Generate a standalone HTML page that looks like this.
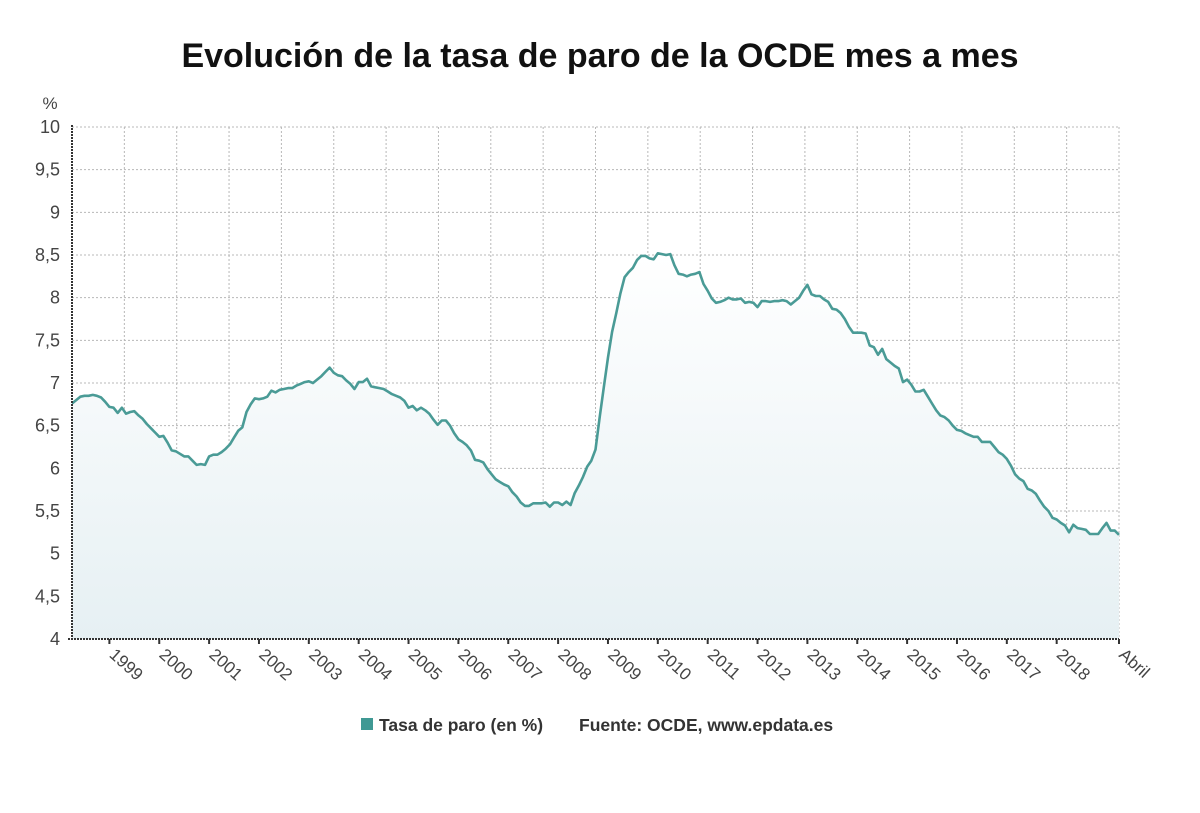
<!DOCTYPE html>
<html><head><meta charset="utf-8"><style>
body{margin:0;background:#fff;width:1200px;height:808px;overflow:hidden;font-family:"Liberation Sans",sans-serif}
</style></head><body>
<svg width="1200" height="808" xmlns="http://www.w3.org/2000/svg" id="svg">
<defs><linearGradient id="g" x1="0" y1="0" x2="0" y2="1"><stop offset="0" stop-color="#ffffff"/><stop offset="1" stop-color="#e6f0f3"/></linearGradient></defs>
<text x="600" y="67" text-anchor="middle" font-size="34" font-weight="bold" fill="#111">Evolución de la tasa de paro de la OCDE mes a mes</text>
<text x="50" y="109" text-anchor="middle" font-size="17" fill="#444">%</text>
<g id="grid"></g><g id="area"></g><g id="axes"></g>
<rect x="361" y="718" width="12" height="12" fill="#3f9994"/>
<text x="379" y="731" font-size="17.5" font-weight="bold" fill="#333">Tasa de paro (en %)</text>
<text x="579" y="731" font-size="17.5" font-weight="bold" fill="#333">Fuente: OCDE, www.epdata.es</text>
</svg>
<script>
const yTicks=[4,4.5,5,5.5,6,6.5,7,7.5,8,8.5,9,9.5,10];
const yTickLabels=["4","4,5","5","5,5","6","6,5","7","7,5","8","8,5","9","9,5","10"];
const xTickLabels=["1999","2000","2001","2002","2003","2004","2005","2006","2007","2008","2009","2010","2011","2012","2013","2014","2015","2016","2017","2018","Abril"];
const xTickMonths=[9,21,33,45,57,69,81,93,105,117,129,141,153,165,177,189,201,213,225,237,252];
const rate=[6.76,6.80,6.84,6.85,6.85,6.86,6.85,6.83,6.78,
6.72,6.71,6.65,6.71,6.64,6.66,6.67,6.62,6.58,6.52,6.47,6.42,
6.37,6.38,6.30,6.21,6.20,6.17,6.14,6.14,6.09,6.04,6.05,6.04,
6.14,6.16,6.16,6.19,6.23,6.28,6.36,6.44,6.48,6.66,6.75,6.82,
6.81,6.82,6.84,6.91,6.89,6.92,6.93,6.94,6.94,6.97,6.99,7.01,
7.02,7.00,7.04,7.08,7.13,7.18,7.12,7.09,7.08,7.03,6.99,6.93,
7.01,7.01,7.05,6.96,6.95,6.94,6.93,6.90,6.87,6.85,6.83,6.79,
6.71,6.73,6.68,6.71,6.68,6.64,6.57,6.51,6.56,6.56,6.50,6.41,
6.34,6.31,6.27,6.21,6.10,6.09,6.07,5.99,5.93,5.87,5.84,5.81,
5.79,5.72,5.67,5.60,5.56,5.56,5.59,5.59,5.59,5.60,5.55,5.60,
5.60,5.57,5.61,5.57,5.71,5.80,5.90,6.02,6.09,6.22,6.60,6.95,
7.30,7.60,7.82,8.05,8.24,8.30,8.35,8.44,8.49,8.49,8.46,8.45,
8.52,8.51,8.50,8.51,8.38,8.28,8.27,8.25,8.27,8.28,8.30,8.16,
8.08,7.99,7.94,7.95,7.97,8.00,7.98,7.98,7.99,7.94,7.95,7.94,
7.89,7.96,7.96,7.95,7.96,7.96,7.97,7.96,7.92,7.96,8.00,8.08,
8.15,8.04,8.02,8.02,7.98,7.95,7.87,7.86,7.82,7.75,7.66,7.59,
7.59,7.59,7.58,7.44,7.42,7.33,7.40,7.28,7.24,7.20,7.17,7.01,
7.04,6.98,6.90,6.90,6.92,6.84,6.76,6.68,6.62,6.60,6.56,6.50,
6.45,6.44,6.41,6.39,6.37,6.37,6.31,6.31,6.31,6.25,6.19,6.16,
6.11,6.03,5.93,5.88,5.85,5.76,5.74,5.70,5.62,5.55,5.50,5.42,
5.40,5.36,5.33,5.25,5.34,5.30,5.29,5.28,5.23,5.23,5.23,5.30,
5.36,5.27,5.27,5.22];
const L=72,R=1119,T=127,B=639,NS="http://www.w3.org/2000/svg";
const xS=i=>L+(R-L)*i/(rate.length-1);
const yS=v=>B-(v-4)/(10-4)*(B-T);
function mk(tag,attrs,parent){const e=document.createElementNS(NS,tag);for(const k in attrs)e.setAttribute(k,attrs[k]);parent.appendChild(e);return e;}
const grid=document.getElementById('grid'),area=document.getElementById('area'),axes=document.getElementById('axes');
yTicks.forEach((v,k)=>{
  if(k>0){const l=mk('line',{x1:L,x2:R,y1:yS(v),y2:yS(v),stroke:'#b8b8b8','stroke-dasharray':'2,2','stroke-width':1},grid);
  
  }
  const t=mk('text',{x:60,y:yS(v)+6,'text-anchor':'end','font-size':18,fill:'#444'},axes);
  t.textContent=yTickLabels[k];
  
  
});
for(let k=1;k<=20;k++){const x=L+(R-L)*k/20;
  const l=mk('line',{x1:x,x2:x,y1:T,y2:B,stroke:'#b8b8b8','stroke-dasharray':'2,2','stroke-width':1},grid);
  
  }
let d='';rate.forEach((v,i)=>{d+=(i?'L':'M')+xS(i).toFixed(1)+','+yS(v).toFixed(1);});
const a=mk('path',{d:d+'L'+xS(rate.length-1)+','+B+'L'+L+','+B+'Z',fill:'url(#g)'},area);


const p=mk('path',{d:d,fill:'none',stroke:'#4a9b96','stroke-width':2.6,'stroke-linejoin':'round'},area);


const ya=mk('line',{x1:L,x2:L,y1:T-2,y2:B,stroke:'#333','stroke-width':2,'stroke-dasharray':'2,1'},axes);


const xa=mk('line',{x1:L-4,x2:R,y1:B,y2:B,stroke:'#333','stroke-width':2,'stroke-dasharray':'2,1'},axes);


xTickMonths.forEach((m,k)=>{const x=xS(m);
  const tk=mk('line',{x1:x,x2:x,y1:B,y2:B+5,stroke:'#333','stroke-width':2},axes);
  
  
  const t=mk('text',{x:0,y:0,'font-size':17,fill:'#444',transform:`translate(${x-1},${B+17}) rotate(42)`},axes);
  t.textContent=xTickLabels[k];
  
  
});
</script>
</body></html>
